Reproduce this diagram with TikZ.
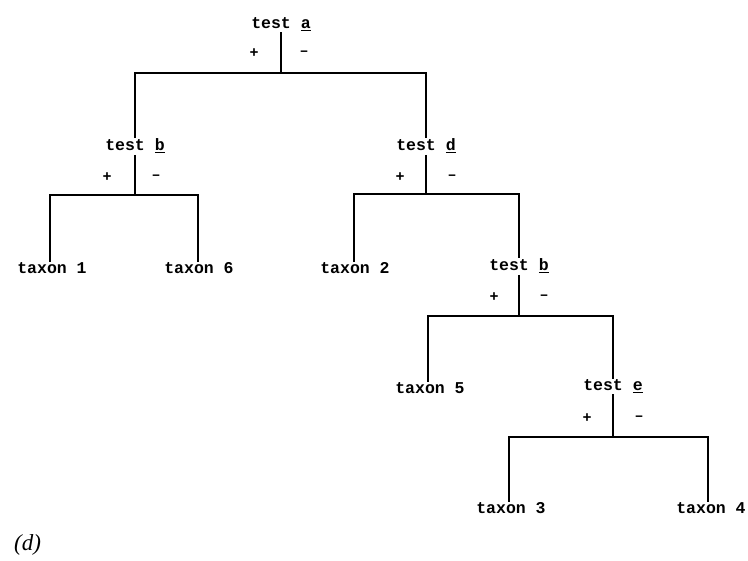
\documentclass[tikz,border=0pt]{standalone}
\usepackage{fontspec}
\setmonofont{Liberation Mono}
\newfontfamily\capfont{Liberation Serif}
\begin{document}
\begin{tikzpicture}[x=1pt,y=-1pt,
  lbl/.style={font=\ttfamily\bfseries\fontsize{16.5}{18}\selectfont, inner sep=1.5pt},
  sgn/.style={font=\ttfamily\bfseries\fontsize{15}{17}\selectfont, inner sep=0pt},
  edge/.style={line width=2.2pt, line cap=rect},
  stem/.style={line width=1.8pt}]
\useasboundingbox (0,0) rectangle (748,561);

% decision nodes
\node[lbl] (ta)  at (281,24)  {test \underline{a}};
\node[lbl] (tb1) at (135,146) {test \underline{b}};
\node[lbl] (td)  at (426,146) {test \underline{d}};
\node[lbl] (tb2) at (519,266) {test \underline{b}};
\node[lbl] (te)  at (613,386) {test \underline{e}};

% leaves
\node[lbl] (x1) at (52,268)  {taxon 1};
\node[lbl] (x6) at (199,268) {taxon 6};
\node[lbl] (x2) at (355,268) {taxon 2};
\node[lbl] (x5) at (430,388) {taxon 5};
\node[lbl] (x3) at (511,508) {taxon 3};
\node[lbl] (x4) at (711,508) {taxon 4};

% junction points on the branch bars
\coordinate (ja)  at (281,73);
\coordinate (jb1) at (135,195);
\coordinate (jd)  at (426,194);
\coordinate (jb2) at (519,316);
\coordinate (je)  at (613,437);

% stems and branches
\draw[stem] (ta.south)  -- (ja);
\draw[stem] (tb1.south) -- (jb1);
\draw[stem] (td.south)  -- (jd);
\draw[stem] (tb2.south) -- (jb2);
\draw[stem] (te.south)  -- (je);

\draw[edge] (tb1.north) |- (ja) -| (td.north);
\draw[edge] (x1.north -| 50,0) |- (jb1) -| (x6.north -| 198,0);
\draw[edge] (x2.north -| 354,0) |- (jd) -| (tb2.north);
\draw[edge] (x5.north -| 428,0) |- (jb2) -| (te.north);
\draw[edge] (x3.north -| 509,0) |- (je) -| (x4.north -| 708,0);

% branch signs
\node[sgn] (pa)  at (254,53)  {+};  \node[sgn] (ma)  at (304,53)  {–};
\node[sgn] (pb1) at (107,177) {+};  \node[sgn] (mb1) at (156,177) {–};
\node[sgn] (pd)  at (400,177) {+};  \node[sgn] (md)  at (452,177) {–};
\node[sgn] (pb2) at (494,297) {+};  \node[sgn] (mb2) at (544,297) {–};
\node[sgn] (pe)  at (587,418) {+};  \node[sgn] (me)  at (639,418) {–};

% panel letter
\node[font=\capfont\itshape\fontsize{23}{25}\selectfont, anchor=west, inner sep=0pt] (cap) at (14,545) {(d)};
\end{tikzpicture}
\end{document}
